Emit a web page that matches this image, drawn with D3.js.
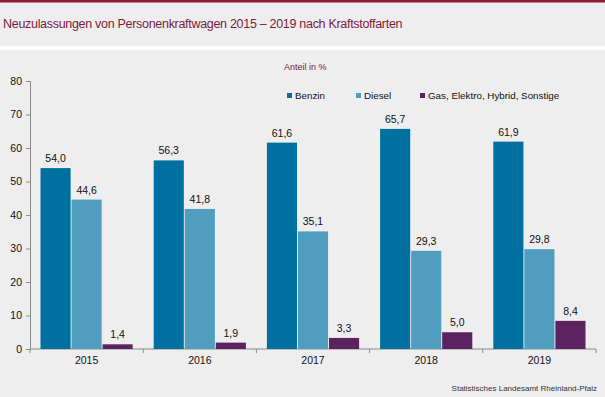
<!DOCTYPE html>
<html>
<head>
<meta charset="utf-8">
<script src="https://cdn.jsdelivr.net/npm/d3@7"></script>
<style>
  body { margin: 0; background: #fff; }
  text { font-family: "Liberation Sans", Arial, sans-serif; }
</style>
</head>
<body>
<div id="chart"></div>
<script>
const years = ["2015", "2016", "2017", "2018", "2019"];
const series = ["Benzin", "Diesel", "Gas, Elektro, Hybrid, Sonstige"];
const benzin = [54.0, 56.3, 61.6, 65.7, 61.9];
const diesel = [44.6, 41.8, 35.1, 29.3, 29.8];
const sonstige = [1.4, 1.9, 3.3, 5.0, 8.4];
const yTicks = [0, 10, 20, 30, 40, 50, 60, 70, 80];
const colors = ["#0070a0", "#4f9ec0", "#5b2360"];

const width = 605;
const height = 397;

const svg = d3.select("#chart")
  .append("svg")
  .attr("width", width)
  .attr("height", height);

// background bands
svg.append("rect").attr("width", width).attr("height", height).attr("fill", "#fff");
svg.append("rect").attr("x", 0).attr("y", 0).attr("width", width).attr("height", 46).attr("fill", "#edeeed");
svg.append("rect").attr("x", 0).attr("y", 0).attr("width", width).attr("height", 2.5).attr("fill", "#8b1c32");
svg.append("rect").attr("x", 0).attr("y", 50).attr("width", width).attr("height", height - 50).attr("fill", "#edeeed");

svg.append("text")
  .attr("x", 3)
  .attr("y", 28)
  .style("font-size", "12.5px")
  .style("fill", "#7d1a3c")
  .style("letter-spacing", "-0.3px")
  .text("Neuzulassungen von Personenkraftwagen 2015 – 2019 nach Kraftstoffarten");

svg.append("text")
  .attr("x", 284)
  .attr("y", 70)
  .style("font-size", "9px")
  .style("fill", "#7d1a3c")
  .text("Anteil in %");

const x = d3.scaleBand()
  .domain(years)
  .range([30, 596])
  .paddingInner(0)
  .paddingOuter(0);

const xInner = d3.scaleBand()
  .domain(series)
  .range([10.5, x.bandwidth() - 10.5])
  .paddingInner(0.03);

const y = d3.scaleLinear()
  .domain([0, 80])
  .range([349, 81]);

const rows = years.map((yr, i) => ({
  year: yr,
  values: [benzin[i], diesel[i], sonstige[i]].map((v, j) => ({ key: series[j], value: v, idx: j }))
}));

// axes
const yAxis = svg.append("g")
  .attr("transform", "translate(30,0)")
  .call(d3.axisLeft(y).tickValues(yTicks).tickSize(4).tickPadding(4).tickFormat(d3.format("d")));
yAxis.selectAll("text").style("font-size", "10.5px").style("fill", "#111");
yAxis.selectAll("line, path").attr("stroke", "#8a8a8a");

const xAxis = svg.append("g")
  .attr("transform", "translate(0,349)")
  .call(d3.axisBottom(x).tickSize(0).tickPadding(8));
xAxis.selectAll("text").style("font-size", "10.5px").style("fill", "#111");
xAxis.select(".domain").attr("stroke", "#8a8a8a").attr("d", "M30,0H596");
xAxis.selectAll(".bnd")
  .data(years.concat(["end"]))
  .enter()
  .append("line")
  .attr("x1", (d, i) => i < years.length ? x(d) : x.range()[1])
  .attr("x2", (d, i) => i < years.length ? x(d) : x.range()[1])
  .attr("y1", 0)
  .attr("y2", 4)
  .attr("stroke", "#8a8a8a");

// bars
const groups = svg.append("g")
  .selectAll("g.year")
  .data(rows)
  .enter()
  .append("g")
  .attr("transform", d => `translate(${x(d.year)},0)`);

groups.selectAll("rect")
  .data(d => d.values)
  .enter()
  .append("rect")
  .attr("x", d => xInner(d.key))
  .attr("y", d => y(d.value))
  .attr("width", xInner.bandwidth())
  .attr("height", d => y(0) - y(d.value))
  .attr("fill", d => colors[d.idx]);

groups.selectAll("text.val")
  .data(d => d.values)
  .enter()
  .append("text")
  .attr("class", "val")
  .attr("x", d => xInner(d.key) + xInner.bandwidth() / 2)
  .attr("y", d => y(d.value) - 6)
  .attr("text-anchor", "middle")
  .style("font-size", "10.5px")
  .style("fill", "#111")
  .text(d => d3.format(".1f")(d.value).replace(".", ","));

// legend
const legendX = [287, 356, 420];
const legend = svg.append("g")
  .selectAll("g")
  .data(series)
  .enter()
  .append("g")
  .attr("transform", (d, i) => `translate(${legendX[i]},99)`);

legend.append("rect")
  .attr("x", 0)
  .attr("y", -6)
  .attr("width", 5)
  .attr("height", 5)
  .attr("fill", (d, i) => colors[i]);

legend.append("text")
  .attr("x", 8)
  .attr("y", 0)
  .style("font-size", "9.8px")
  .style("fill", "#111")
  .text(d => d);

svg.append("text")
  .attr("x", 597)
  .attr("y", 391)
  .attr("text-anchor", "end")
  .style("font-size", "8px")
  .style("fill", "#333")
  .text("Statistisches Landesamt Rheinland-Pfalz");
</script>
</body>
</html>
